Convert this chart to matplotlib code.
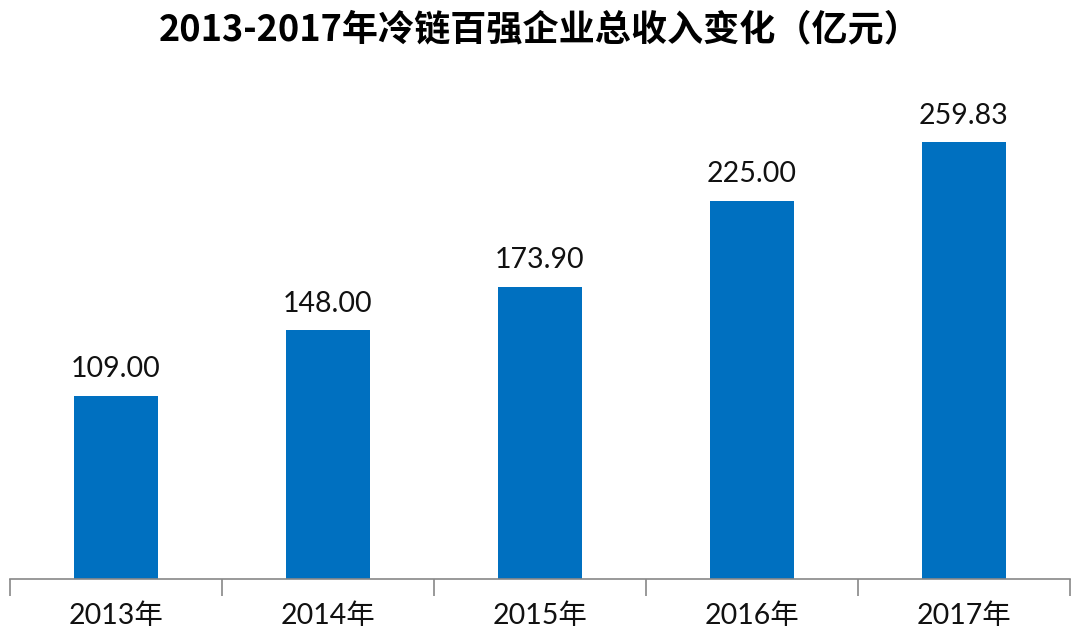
import matplotlib
matplotlib.use("Agg")
import matplotlib.pyplot as plt

categories = ["2013年", "2014年", "2015年", "2016年", "2017年"]
values = [109.00, 148.00, 173.90, 225.00, 259.83]
title = "2013-2017年冷链百强企业总收入变化（亿元）"

plt.rcParams['font.family'] = ['Lato', 'Noto Sans CJK SC', 'DejaVu Sans']

fig = plt.figure(figsize=(10.8, 6.4), dpi=100)
ax = fig.add_axes([10/1080, (640-579)/640, 1060/1080, (579-100)/640])

x = list(range(len(categories)))
bars = ax.bar(x, values, width=0.4, color="#0070C0", zorder=2)
ax.set_xlim(-0.5, len(categories) - 0.5)
ax.set_ylim(0, 479/1.682)

for xi, v in zip(x, values):
    ax.text(xi, v + 8, f"{v:.2f}", ha="center", va="bottom", fontsize=20.5,
            color="#111111")

for s in ["top", "right", "left"]:
    ax.spines[s].set_visible(False)
ax.spines["bottom"].set_color("#888888")
ax.spines["bottom"].set_linewidth(1.2)
ax.set_yticks([])

ax.set_xticks(x)
ax.set_xticklabels(categories, fontsize=20.5, color="#111111")
ax.tick_params(axis="x", length=0, pad=17)
ax.set_xticks([i - 0.5 for i in range(len(categories) + 1)], minor=True)
ax.tick_params(axis="x", which="minor", length=12, color="#888888", width=1.2)

fig.text(0.5, 1 - 30/640, title, ha="center", va="center", fontsize=26,
         fontweight="bold", family=['Noto Sans CJK SC', 'DejaVu Sans'], color="#000000")

fig.savefig("out.png", dpi=100, facecolor="white")
